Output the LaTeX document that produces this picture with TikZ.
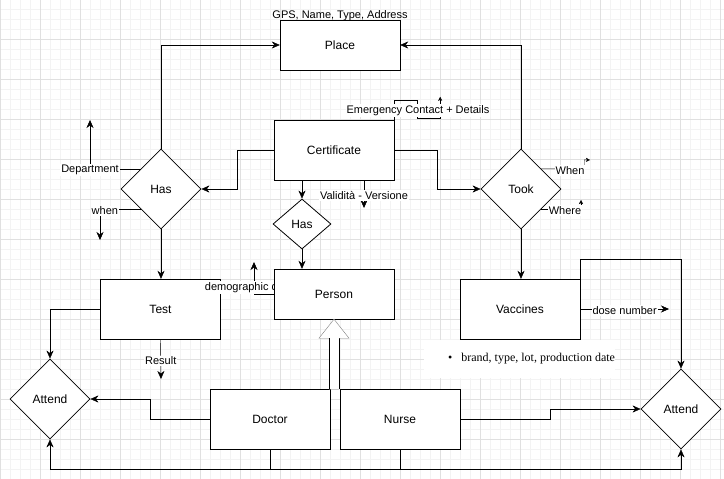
\documentclass[tikz,border=0pt]{standalone}
\usepackage{fontspec}
\setmainfont{Liberation Sans}
\newfontfamily\brandfont{Liberation Serif}
\usetikzlibrary{arrows.meta,shapes.geometric,backgrounds}
\definecolor{gridminor}{HTML}{F3F3F3}
\definecolor{gridmajor}{HTML}{E0E0E0}
\begin{document}
\begin{tikzpicture}[x=1pt,y=-1pt,>={Stealth[length=8pt,width=7pt,inset=2.5pt]},line width=1pt,font=\fontsize{12}{14}\selectfont,
	ent/.style={draw,fill=white,minimum width=120pt,minimum height=60pt,inner sep=0pt},
	rel/.style={draw,diamond,fill=white,line width=.8pt,minimum width=80pt,minimum height=80pt,inner sep=0pt},
	lab/.style={fill=white,inner sep=1pt,yshift=-1.5pt,font=\fontsize{11}{13}\selectfont},
	tip/.style={-{Stealth[length=4pt,width=4pt,inset=1pt]}}]
		\useasboundingbox (0,0) rectangle (724,479);
		\begin{pgfonlayer}{background}
		\fill[white] (0,0) rectangle (724,479);
		\foreach \i in {0,10,...,720} \draw[gridminor,line width=.7pt] (\i,0)--(\i,479);
		\foreach \j in {9.5,19.5,...,479} \draw[gridminor,line width=.7pt] (0,\j)--(724,\j);
		\foreach \i in {0,40,...,720} \draw[gridmajor,line width=.9pt] (\i,0)--(\i,479);
		\foreach \j in {-0.5,39.5,...,479} \draw[gridmajor,line width=.9pt] (0,\j)--(724,\j);
		\end{pgfonlayer}
		% entities
		\node[ent,minimum height=50pt] (place) at (340,45) {Place};
		\node[lab,fill=none] (gps) at (340,14) {GPS, Name, Type, Address};
		\node[ent] (cert) at (334,150) {Certificate};
		\node[ent] (test) at (160.5,309) {Test};
		\node[lab] (demo) at (249,286) {demographic data};
		\node[ent,minimum height=50pt] (person) at (334,294) {Person};
		\node[ent] (vacc) at (520,309) {Vaccines};
		\node[ent] (doctor) at (270,419) {Doctor};
		\node[ent] (nurse) at (400,419) {Nurse};
		% relations
		\node[rel] (has1) at (161,189) {Has};
		\node[rel] (took) at (521,189) {Took};
		\node[rel,minimum width=58pt,minimum height=50pt] (has2) at (302,224) {Has};
		\node[rel] (att1) at (50,399) {Attend};
		\node[rel] (att2) at (681,409) {Attend};
		\coordinate (deptend) at (90,120);
		\coordinate (whenend) at (100,240);
		\coordinate (whentip) at (590,160);
		\coordinate (wheretip) at (581,200);
		\coordinate (valend) at (364,208);
		\coordinate (demoend) at (254,262);
		\coordinate (resend) at (161,379);
		\coordinate (doseend) at (669,309);
		% connectors
		\draw[->] (has1.north) |- (place.west);
		\draw[->] (took.north) |- (place.east);
		\draw[->] (cert.west) -- ++(-37,0) |- (has1.east);
		\draw[->] (cert.east) -- ++(43,0) |- (took.west);
		\draw[->] (cert.south -| has2.north) -- (has2.north);
		\draw[->] (cert.south -| valend) -- (valend) node[lab,midway]{Validità - Versione};
		\draw[->] (has2.south) -- (has2.south |- person.north);
		\draw[->] (has1.south) -- (has1.south |- test.north);
		\draw[->] (has1.north west) -| (deptend) node[lab,pos=.5]{Department};
		\draw[->] (has1.south west) -| (whenend) node[lab,pos=.44]{when};
		\draw[tip] (took.north east) -- ++(43,0) -- ++(0,-9) -- (whentip);
		\node[lab] (when) at (570,169) {When};
		\draw[tip] (took.south east) -- (took.south east -| wheretip) -- (wheretip);
		\node[lab] (where) at (565,209) {Where};
		\draw[tip] (cert.north east) -- ++(0,-20) -- ++(23,0) -- ++(0,18) -- ++(23,0) -- ++(0,-21);
		\node[lab] (emerg) at (418,109) {Emergency Contact + Details};
		\begin{pgfonlayer}{background}
		\draw[->] (person.west) -| (demoend);
		\end{pgfonlayer}
		\draw[->] (test.south) -- (resend) node[lab,midway]{Result};
		\draw[->] (test.west) -| (att1.north);
		\draw[->] (doctor.west) -- ++(-60,0) |- (att1.east);
		\draw[->] (doctor.south) -- ++(0,20) -| (att2.south);
		\draw[->] (nurse.south) -- ++(0,20) -| (att1.south);
		\draw[->] (nurse.east) -- ++(90,0) |- (att2.west);
		\draw[->] (took.south) -- (took.south |- vacc.north);
		\draw[->] (vacc.north east) -- ++(0,-20) -| (att2.north);
		\draw[->] (vacc.east) -- (doseend) node[lab,midway]{dose number};
		% generalization
		\fill[white] (person.south) -- ([shift={(15,19)}]person.south) -- ([shift={(5,19)}]person.south) -- ([shift={(5,70)}]person.south) -- ([shift={(-5,70)}]person.south) -- ([shift={(-5,19)}]person.south) -- ([shift={(-15,19)}]person.south) -- cycle;
		\draw ([shift={(5,19)}]person.south) -- ([shift={(5,70)}]person.south) ([shift={(-5,19)}]person.south) -- ([shift={(-5,70)}]person.south);
		\draw[gray] ([shift={(-5,19)}]person.south) -- ([shift={(-15,19)}]person.south) -- (person.south) -- ([shift={(15,19)}]person.south) -- ([shift={(5,19)}]person.south) ([shift={(-5,70)}]person.south) -- ([shift={(5,70)}]person.south);
		\node[fill=white,inner sep=0pt,minimum height=38pt,anchor=west,font=\brandfont\fontsize{12}{14}\selectfont] (brand) at (424,359) {\hspace{24pt}\textbullet\hspace{9pt}brand, type, lot, production date};
		\end{tikzpicture}
\end{document}
